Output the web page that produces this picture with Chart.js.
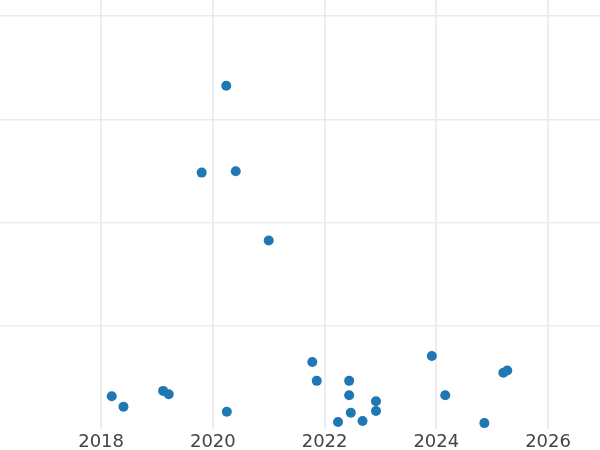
<!DOCTYPE html>
<html>
<head>
<meta charset="utf-8">
<script src="https://cdn.jsdelivr.net/npm/chart.js@4/dist/chart.umd.min.js"></script>
<style>
  html, body { margin: 0; padding: 0; background: #fff; }
</style>
</head>
<body>
<canvas id="myChart" width="600" height="450"></canvas>
<script>
// point dates (decimal year) and values
const years = [
  2018.19, 2018.40, 2019.11, 2019.21, 2020.25,
  2020.24, 2019.80, 2020.41, 2021.00,
  2021.78, 2021.86, 2022.44, 2022.44, 2022.47, 2022.24, 2022.68, 2022.92, 2022.92,
  2023.92, 2024.16, 2024.86, 2025.20, 2025.27,
];
const values = [
  3.19, 2.18, 3.71, 3.39, 1.69,
  33.25, 24.84, 24.98, 18.27,
  6.50, 4.68, 4.68, 3.29, 1.60, 0.69, 0.79, 2.70, 1.76,
  7.08, 3.29, 0.59, 5.46, 5.68,
];
const xTicks = [2018, 2020, 2022, 2024, 2026];
const yTicks = [10, 20, 30, 40];

const points = years.map((x, i) => ({ x: x, y: values[i] }));

const gridColor = '#ebebeb';

const chart = new Chart(document.getElementById('myChart'), {
  type: 'scatter',
  data: {
    datasets: [
      {
        data: points,
        backgroundColor: '#1f77b4',
        borderWidth: 0,
        pointRadius: 5,
      },
    ],
  },
  options: {
    responsive: false,
    animation: false,
    layout: { padding: { top: 0, left: 0, right: 0, bottom: -5 }, autoPadding: false },
    plugins: {
      legend: { display: false },
      tooltip: { enabled: false },
    },
    scales: {
      x: {
        type: 'linear',
        min: 2016.19,
        max: 2026.93,
        border: { display: false },
        grid: { color: gridColor, lineWidth: 1.8, drawTicks: false },
        afterBuildTicks: (scale) => {
          scale.ticks = xTicks.map((v) => ({ value: v }));
        },
        ticks: {
          padding: 3,
          color: '#444',
          font: { family: 'DejaVu Sans', size: 18, lineHeight: 1.1 },
          callback: (v) => String(v),
        },
      },
      y: {
        min: 0,
        max: 41.55,
        border: { display: false },
        grid: { color: gridColor, lineWidth: 1.5, drawTicks: false },
        afterBuildTicks: (scale) => {
          scale.ticks = yTicks.map((v) => ({ value: v }));
        },
        ticks: { display: false },
      },
    },
  },
});
</script>
</body>
</html>
